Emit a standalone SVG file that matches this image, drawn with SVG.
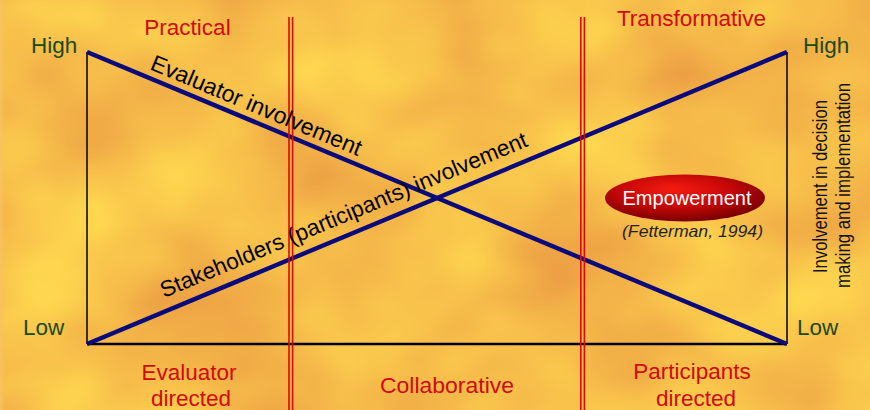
<svg xmlns="http://www.w3.org/2000/svg" width="870" height="410" viewBox="0 0 870 410">
  <defs>
    <!-- mottled orange/yellow backdrop -->
    <filter id="mottle" x="0" y="0" width="100%" height="100%" color-interpolation-filters="sRGB">
      <feTurbulence type="fractalNoise" baseFrequency="0.006 0.008" numOctaves="3" seed="7" result="noise"/>
      <feColorMatrix in="noise" type="matrix"
        values="0.13 0 0 0 0.9
                0.40 0 0 0 0.54
                0.08 0 0 0 0.25
                0 0 0 0 1"/>
      <feGaussianBlur stdDeviation="5"/>
    </filter>
    <radialGradient id="pill" cx="0.45" cy="0.38" r="0.62" fx="0.42" fy="0.3">
      <stop offset="0" stop-color="#f41c10"/>
      <stop offset="0.55" stop-color="#c80808"/>
      <stop offset="1" stop-color="#7a0000"/>
    </radialGradient>
    <linearGradient id="leftEdge" x1="0" x2="1">
      <stop offset="0" stop-color="#f8c260" stop-opacity="0.9"/>
      <stop offset="1" stop-color="#f8c260" stop-opacity="0"/>
    </linearGradient>
    <style>
      .lbl { font-family: "Liberation Sans", Arial, sans-serif; }
      .level { fill: #1a4a14; font-size: 22.5px; }
      .mode { fill: #d10a0a; font-size: 22.5px; }
      .curve-lbl { fill: #000; }
      .axis { stroke: #000; fill: none; }
      .trend { stroke: #0a0a7c; stroke-width: 4.4; fill: none; }
      .divider { stroke: #d80a0a; stroke-width: 1.6; fill: none; }
    </style>
  </defs>

  <!-- backdrop -->
  <rect width="870" height="410" fill="#f5bb48"/>
  <rect x="-20" y="-20" width="910" height="450" filter="url(#mottle)"/>
  <rect width="5" height="410" fill="url(#leftEdge)"/>

  <!-- axes, trend lines and section dividers -->
  <g id="connectors">
    <line class="axis" x1="87" y1="52" x2="87" y2="344" stroke-width="1.5"/>
    <line class="axis" x1="787" y1="52" x2="787" y2="344" stroke-width="1.5"/>
    <line class="axis" x1="87" y1="344" x2="787" y2="344" stroke-width="2.5"/>
    <line class="trend" x1="87" y1="52" x2="787" y2="344"/>
    <line class="trend" x1="87" y1="344" x2="787" y2="52"/>
    <line class="divider" x1="289" y1="17" x2="289" y2="410"/>
    <line class="divider" x1="292.6" y1="17" x2="292.6" y2="410"/>
    <line class="divider" x1="580.8" y1="17" x2="580.8" y2="410"/>
    <line class="divider" x1="584.4" y1="17" x2="584.4" y2="410"/>
  </g>

  <!-- level labels -->
  <g id="high-left"><text class="lbl level" x="31" y="53">High</text></g>
  <g id="high-right"><text class="lbl level" x="803" y="53">High</text></g>
  <g id="low-left"><text class="lbl level" x="23" y="335">Low</text></g>
  <g id="low-right"><text class="lbl level" x="797" y="335">Low</text></g>

  <!-- evaluation approaches (top) -->
  <g id="practical"><text class="lbl mode" x="187.5" y="35" text-anchor="middle">Practical</text></g>
  <g id="transformative"><text class="lbl mode" x="691.5" y="26" text-anchor="middle">Transformative</text></g>

  <!-- who directs (bottom) -->
  <g id="evaluator-directed">
    <text class="lbl mode" x="189" y="380" text-anchor="middle" font-size="23">Evaluator</text>
    <text class="lbl mode" x="191" y="406" text-anchor="middle" font-size="22">directed</text>
  </g>
  <g id="collaborative">
    <text class="lbl mode" x="447" y="393" text-anchor="middle" font-size="22" textLength="134" lengthAdjust="spacingAndGlyphs">Collaborative</text>
  </g>
  <g id="participants-directed">
    <text class="lbl mode" x="692" y="379" text-anchor="middle" font-size="23">Participants</text>
    <text class="lbl mode" x="696" y="406" text-anchor="middle" font-size="22">directed</text>
  </g>

  <!-- trend line captions -->
  <g id="evaluator-involvement">
    <text class="lbl curve-lbl" font-size="23" transform="translate(149 69) rotate(22.64)">Evaluator involvement</text>
  </g>
  <g id="stakeholder-involvement">
    <text class="lbl curve-lbl" font-size="22.6" transform="translate(164 298) rotate(-22.64)">Stakeholders (participants) involvement</text>
  </g>

  <!-- empowerment badge -->
  <g id="empowerment">
    <ellipse cx="685" cy="198" rx="80" ry="23.5" fill="url(#pill)"/>
    <text class="lbl" x="687" y="205" text-anchor="middle" fill="#fff" font-size="21" textLength="129" lengthAdjust="spacingAndGlyphs">Empowerment</text>
    <text class="lbl" x="692.5" y="237" text-anchor="middle" fill="#1f1f1f" font-size="17" font-style="italic" textLength="141" lengthAdjust="spacingAndGlyphs">(Fetterman, 1994)</text>
  </g>

  <!-- vertical axis caption -->
  <g id="axis-caption">
    <text class="lbl" fill="#111" font-size="19.5" text-anchor="middle" transform="translate(827 186.5) rotate(-90)" textLength="173" lengthAdjust="spacingAndGlyphs">Involvement in decision</text>
    <text class="lbl" fill="#111" font-size="19.5" text-anchor="middle" transform="translate(850 185.5) rotate(-90)" textLength="205" lengthAdjust="spacingAndGlyphs">making and implementation</text>
  </g>
</svg>
